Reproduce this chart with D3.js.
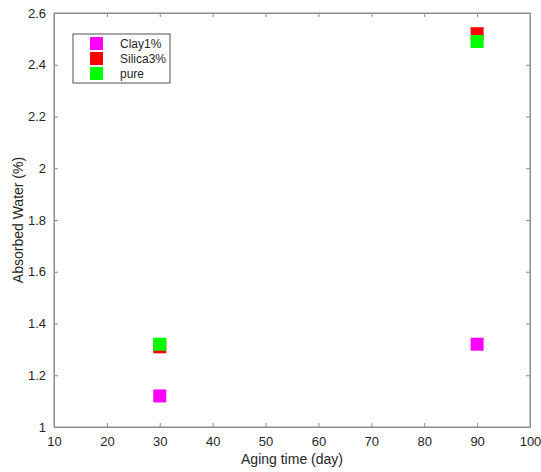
<!DOCTYPE html>
<html>
<head>
<meta charset="utf-8">
<script src="https://cdn.jsdelivr.net/npm/d3@7"></script>
<style>
  body { margin: 0; background: #fff; }
  text { font-family: "Liberation Sans", Arial, sans-serif; fill: #262626; }
</style>
</head>
<body>
<script>
// data
var days = [30, 90];
var clay1 = [1.12, 1.32];
var silica3 = [1.31, 2.52];
var pure = [1.32, 2.49];
var seriesNames = ["Clay1%", "Silica3%", "pure"];
var seriesColors = ["#ff00ff", "#ff0000", "#00ff00"];
var xTicks = [10, 20, 30, 40, 50, 60, 70, 80, 90, 100];
var yTicks = [1, 1.2, 1.4, 1.6, 1.8, 2, 2.2, 2.4, 2.6];

var W = 541, H = 472;
var margin = {top: 13, right: 11, bottom: 45, left: 54};
var width = W - margin.left - margin.right;
var height = H - margin.top - margin.bottom;
var axisColor = "#8c8c8c";

var svg = d3.select("body").append("svg")
  .attr("width", W)
  .attr("height", H);

var g = svg.append("g")
  .attr("transform", "translate(" + margin.left + "," + margin.top + ")");

var x = d3.scaleLinear().domain([10, 100]).range([0, width]);
var y = d3.scaleLinear().domain([1, 2.6]).range([height, 0]);

// box
g.append("rect")
  .attr("x", 0).attr("y", 0)
  .attr("width", width).attr("height", height)
  .attr("fill", "none")
  .attr("stroke", axisColor);

var fmt = function(d) { return d3.format("")(+d.toFixed(1)); };

// axes (ticks inward)
var xAxis = g.append("g")
  .attr("transform", "translate(0," + height + ")")
  .call(d3.axisBottom(x).tickValues(xTicks).tickSizeInner(-4).tickSizeOuter(0).tickPadding(10));
var xTop = g.append("g")
  .call(d3.axisTop(x).tickValues(xTicks).tickSizeInner(-4).tickSizeOuter(0).tickFormat(""));
var yAxis = g.append("g")
  .call(d3.axisLeft(y).tickValues(yTicks).tickFormat(fmt).tickSizeInner(-4).tickSizeOuter(0).tickPadding(8));
var yRight = g.append("g")
  .attr("transform", "translate(" + width + ",0)")
  .call(d3.axisRight(y).tickValues(yTicks).tickSizeInner(-4).tickSizeOuter(0).tickFormat(""));

[xAxis, xTop, yAxis, yRight].forEach(function(a) {
  a.select(".domain").attr("stroke", axisColor);
  a.selectAll(".tick line").attr("stroke", axisColor);
  a.selectAll(".tick text")
    .style("font-family", "'Liberation Sans', Arial, sans-serif")
    .style("font-size", "13px")
    .attr("fill", "#262626");
});

// markers
var sz = 13;
var allSeries = [clay1, silica3, pure];
allSeries.forEach(function(vals, si) {
  g.selectAll(".m" + si)
    .data(vals)
    .enter().append("rect")
    .attr("class", "m" + si)
    .attr("x", function(d, i) { return x(days[i]) - sz / 2; })
    .attr("y", function(d) { return y(d) - sz / 2; })
    .attr("width", sz)
    .attr("height", sz)
    .attr("fill", seriesColors[si]);
});

// legend
var leg = g.append("g").attr("transform", "translate(19,21)");
leg.append("rect")
  .attr("width", 97).attr("height", 49)
  .attr("fill", "#fff")
  .attr("stroke", "#262626")
  .attr("stroke-width", 0.8);
seriesNames.forEach(function(name, i) {
  leg.append("rect")
    .attr("x", 17).attr("y", 3 + i * 15)
    .attr("width", 13).attr("height", 13)
    .attr("fill", seriesColors[i]);
  leg.append("text")
    .attr("x", 47).attr("y", 10 + i * 15)
    .attr("dy", "0.35em")
    .style("font-size", "12px")
    .text(name);
});

// axis labels
svg.append("text")
  .attr("x", margin.left + width / 2)
  .attr("y", H - 8)
  .attr("text-anchor", "middle")
  .style("font-size", "14px")
  .text("Aging time (day)");

svg.append("text")
  .attr("transform", "translate(23," + (margin.top + height / 2) + ") rotate(-90)")
  .attr("text-anchor", "middle")
  .style("font-size", "14px")
  .text("Absorbed Water (%)");
</script>
</body>
</html>
